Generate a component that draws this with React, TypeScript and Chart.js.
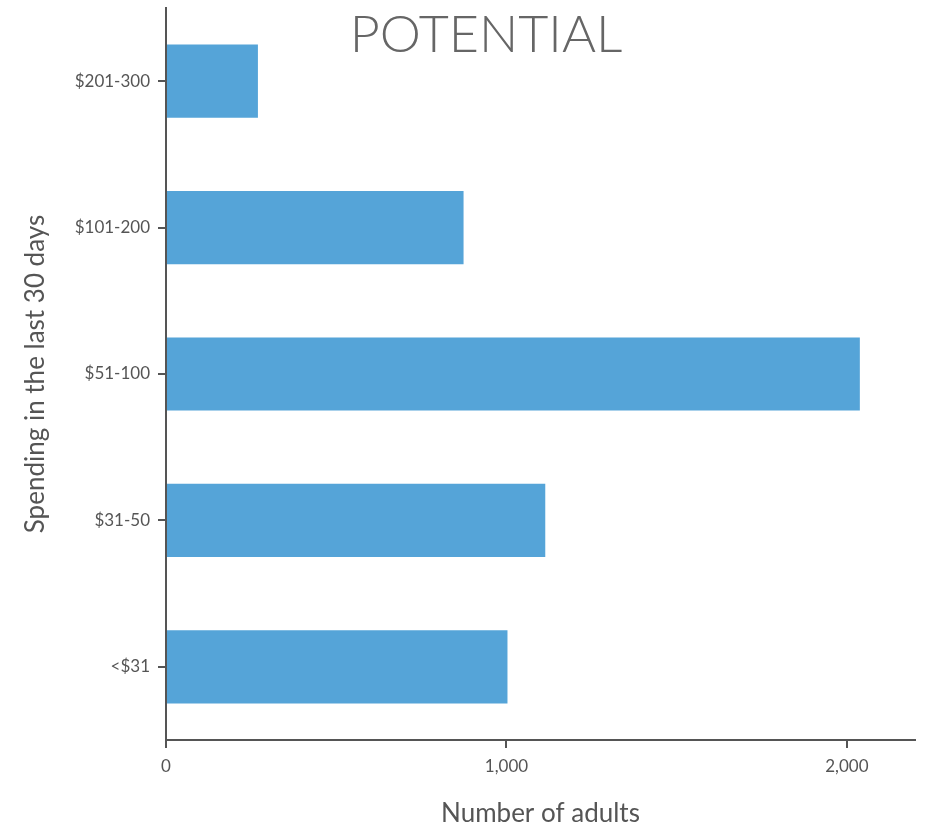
import React, { useEffect, useRef } from "react";
import { Chart, registerables } from "chart.js";

Chart.register(...registerables);

const categories = ["$201-300", "$101-200", "$51-100", "$31-50", "<$31"];
const values = [270, 874, 2038, 1114, 1003];
const xTicks = [0, 1000, 2000];
const xMax = 2200;
const chartTitle = "POTENTIAL";
const xTitle = "Number of adults";
const yTitle = "Spending in the last 30 days";

const GRAY = "#555555";
const FONT = "Lato, 'Open Sans', sans-serif";

const titlePlugin = {
  id: "overTitle",
  afterDraw(chart: any) {
    const ctx = chart.ctx;
    ctx.save();
    ctx.font = `300 52px ${FONT}`;
    ctx.fillStyle = "#666666";
    ctx.textAlign = "center";
    ctx.textBaseline = "middle";
    ctx.fillText(chartTitle, chart.width / 2 + 20, 35);
    ctx.restore();
  },
};

export default function App() {
  const ref = useRef<HTMLCanvasElement | null>(null);
  useEffect(() => {
    if (!ref.current) return;
    const chart = new Chart(ref.current, {
      type: "bar",
      data: {
        labels: categories,
        datasets: [
          {
            data: values,
            backgroundColor: "#55A4D8",
            categoryPercentage: 1,
            barPercentage: 0.5,
          },
        ],
      },
      options: {
        indexAxis: "y",
        animation: false,
        responsive: true,
        maintainAspectRatio: false,
        layout: { padding: { top: 8, right: 17, left: 0, bottom: 0 } },
        plugins: { legend: { display: false }, tooltip: { enabled: false }, title: { display: false } },
        scales: {
          x: {
            min: 0,
            max: xMax,
            afterFit(scale: any) {
              scale.height = 89;
              scale.paddingLeft = 0;
              scale.paddingRight = 0;
            },
            afterBuildTicks(scale: any) {
              scale.ticks = xTicks.map((v) => ({ value: v }));
            },
            border: { display: true, color: GRAY, width: 2 },
            grid: { display: true, drawOnChartArea: false, drawTicks: true, tickLength: 8, color: GRAY, lineWidth: 2 },
            ticks: {
              color: GRAY,
              font: { family: FONT, size: 17 },
              padding: 8,
              maxRotation: 0,
              callback: (v: any) => Number(v).toLocaleString("en-US"),
            },
            title: {
              display: true,
              text: xTitle,
              color: GRAY,
              font: { family: FONT, size: 26 },
              padding: { top: 12, bottom: 0 },
            },
          },
          y: {
            afterFit(scale: any) {
              scale.width = 166;
              scale.paddingTop = 0;
              scale.paddingBottom = 0;
            },
            border: { display: true, color: GRAY, width: 2 },
            grid: { display: true, offset: false, drawOnChartArea: false, drawTicks: true, tickLength: 8, color: GRAY, lineWidth: 2 },
            ticks: {
              color: GRAY,
              font: { family: FONT, size: 17 },
              padding: 8,
            },
            title: {
              display: true,
              text: yTitle,
              color: GRAY,
              font: { family: FONT, size: 26 },
              padding: { top: 20, bottom: 0 },
            },
          },
        },
      },
      plugins: [titlePlugin],
    });
    return () => chart.destroy();
  }, []);
  return (
    <div style={{ position: "absolute", left: 0, top: 0, width: 932, height: 829 }}>
      <canvas ref={ref} />
    </div>
  );
}
